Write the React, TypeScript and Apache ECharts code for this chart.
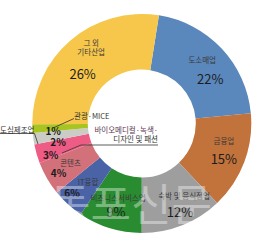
import React, { useEffect, useRef } from 'react';
import * as echarts from 'echarts';

// Slices, clockwise from the top
const categories = ['도소매업', '금융업', '숙박 및 음식점업', '비즈니스서비스업', 'IT융합', '콘텐츠', '바이오메디컬·녹색·디자인 및 패션', '도심제조업', '관광·MICE', '그 외 기타산업'];
const displayNames = ['도소매업', '금융업', '숙박 및 음식점업', '비즈니스서비스업', 'IT융합', '콘텐츠', '바이오메디컬·녹색·\n디자인 및 패션', '도심제조업', '관광·MICE', '그 외\n기타산업'];
// shares as drawn
const shares = [21.0, 14.4, 12.1, 9.4, 4.7, 5.0, 2.8, 1.7, 1.25, 27.6];
// percentage labels as printed
const percentLabels = ['22%', '15%', '12%', '9%', '6%', '4%', '3%', '2%', '1%', '26%'];
const colors = ['#5A87BC', '#C2723B', '#9E9E9E', '#2A8C30', '#4A63A6', '#D27179', '#EE5B85', '#CBCCC6', '#A8C421', '#F6C74B'];

const FONT = '"Noto Sans CJK KR", "Noto Sans", sans-serif';

// per-slice label styling: offsets, horizontal shift of name/value lines, value line height, value size
const specs = [
  { dx: 2.6, dy: 8.9, ns: -4, vs: 4, vlh: 29, size: 13, inName: true },
  { dx: 2.7, dy: 0.8, ns: 0, vs: 0, vlh: 27, size: 13, inName: true },
  { dx: 8.9, dy: 4.6, ns: 2, vs: -2, vlh: 23, size: 13, inName: true },
  { dx: 0, dy: 2.8, ns: 1, vs: -1, vlh: 20, size: 13, inName: true },
  { dx: -4.6, dy: 1.7, ns: 8, vs: -8, vlh: 12, size: 10, inName: true },
  { dx: -4, dy: 2.1, ns: 6, vs: -6, vlh: 11, size: 10, inName: true },
  { dx: -9.7, dy: 8, ns: 0, vs: 0, vlh: 12, size: 10, inName: false },
  { dx: 0.2, dy: 6.1, ns: 0, vs: 0, vlh: 12, size: 10, inName: false },
  { dx: -4, dy: 2.6, ns: 0, vs: 0, vlh: 12, size: 10, inName: false },
  { dx: 0.6, dy: 4.9, ns: 4, vs: -4.5, vlh: 34, size: 13, inName: true },
];

const pad = (s: number) => (s >= 0 ? [0, 0, 0, 2 * s] : [0, -2 * s, 0, 0]);

export default function App() {
  const ref = useRef<HTMLDivElement>(null);
  useEffect(() => {
    document.body.style.margin = '0';
    const chart = echarts.init(ref.current!, null, { renderer: 'svg' });

    const rich: any = {};
    specs.forEach((s, i) => {
      rich['n' + i] = { fontSize: 7.5, lineHeight: 9, color: '#3a3a3a', fontFamily: FONT, padding: pad(s.ns) };
      rich['v' + i] = {
        fontSize: s.size,
        lineHeight: s.vlh,
        color: '#1c1c1c',
        fontFamily: FONT,
        fontWeight: s.size < 12 ? 'bold' : 'normal',
        padding: pad(s.vs),
      };
    });

    const callouts: Record<number, any> = {
      6: { x: 158, y: 134, align: 'right', verticalAlign: 'middle', labelLinePoints: [[62, 153], [81, 145], [158, 145]] },
      7: { x: 34.5, y: 129, align: 'right', verticalAlign: 'middle', labelLinePoints: [[38, 144], [34.5, 133.5], [0, 133.5]] },
      8: { x: 74, y: 115.5, align: 'left', verticalAlign: 'middle', labelLinePoints: [[52, 128.5], [63, 123.5], [74, 118.5]] },
    };

    chart.setOption({
      animation: false,
      backgroundColor: '#ffffff',
      series: [
        {
          type: 'pie',
          center: [141.8, 123.5],
          radius: [54, 109.5],
          startAngle: 81,
          clockwise: true,
          avoidLabelOverlap: false,
          silent: true,
          data: categories.map((c, i) => ({ name: c, value: shares[i], itemStyle: { color: colors[i] } })),
          label: {
            show: true,
            position: 'inside',
            formatter: (p: any) => {
              const i = p.dataIndex;
              const s = specs[i];
              const val = `{v${i}|${percentLabels[i]}}`;
              if (!s.inName) return val;
              const lines = displayNames[i].split('\n').map((l) => `{n${i}|${l}}`);
              return [...lines, val].join('\n');
            },
            rich,
          },
          labelLine: { show: false },
          labelLayout: (p: any) => ({ dx: specs[p.dataIndex].dx, dy: specs[p.dataIndex].dy }),
        },
        {
          type: 'pie',
          center: [141.8, 123.5],
          radius: [54, 109.5],
          startAngle: 81,
          clockwise: true,
          avoidLabelOverlap: false,
          silent: true,
          z: 3,
          data: categories.map((c, i) => ({
            name: displayNames[i],
            value: shares[i],
            itemStyle: { color: 'rgba(0,0,0,0)' },
            label: { show: callouts[i] != null },
            labelLine: { show: callouts[i] != null },
          })),
          label: {
            position: 'outside',
            formatter: (p: any) => {
              const parts = String(p.name).split('\n');
              if (parts.length === 2) return `{p|${parts[0]}}\n{q|${parts[1]}}`;
              return `{q|${parts[0]}}`;
            },
            rich: {
              p: { fontSize: 7.5, lineHeight: 9, color: '#5a3550', fontFamily: FONT },
              q: { fontSize: 7.5, lineHeight: 9, color: '#333333', fontFamily: FONT },
            },
          },
          labelLine: { show: true, lineStyle: { color: '#333333', width: 0.8 } },
          labelLayout: (p: any) => callouts[p.dataIndex] ?? {},
        },
      ],
      graphic: [
        {
          type: 'text',
          left: 50,
          top: 180,
          z: 100,
          silent: true,
          style: {
            text: '동포신문',
            fill: 'rgba(255,255,255,0.38)',
            font: `44px ${FONT}`,
          },
        },
      ],
    });
    return () => chart.dispose();
  }, []);
  return <div ref={ref} style={{ width: 253, height: 252 }} />;
}
